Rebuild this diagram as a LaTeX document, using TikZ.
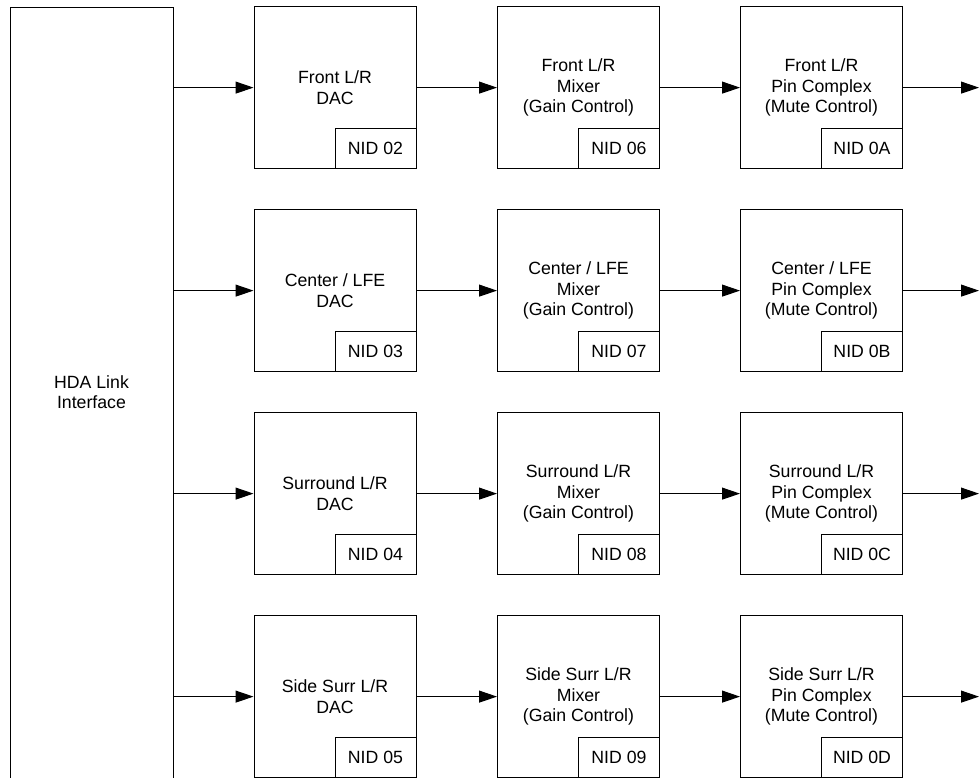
\documentclass[tikz,border=0pt]{standalone}
\usepackage{fontspec}
\setmainfont{Liberation Sans}
\usetikzlibrary{arrows.meta}
\begin{document}
\begin{tikzpicture}[x=1pt,y=-1pt,
  every node/.style={font=\fontsize{17.7}{20.6}\selectfont},
  blk/.style={draw, line width=1pt, minimum width=162pt, minimum height=162pt, inner sep=0pt, align=center},
  nid/.style={draw, line width=1pt, minimum width=81pt, minimum height=40pt, inner sep=0pt, anchor=south east},
  conn/.style={line width=1pt, -{Triangle[length=18pt,width=12pt]}}]
\useasboundingbox (0,-0.6) rectangle (979,776.4);
% HDA link interface
\node[draw, line width=1pt, minimum width=163pt, minimum height=790pt, inner sep=0pt, anchor=north west] (hda) at (10,6) {};
\node[align=center] (hdatext) at (91.5,391.5) {HDA Link\\Interface};
% rows
\foreach \r/\y/\name/\na/\nb/\nc in {1/87/{Front L/R}/02/06/0A, 2/290/{Center / LFE}/03/07/0B, 3/493/{Surround L/R}/04/08/0C, 4/696/{Side Surr L/R}/05/09/0D}{
  \node[blk] (d\r) at (335,\y) {\name\\DAC};
  \node[nid] (nd\r) at (d\r.south east) {NID \na};
  \node[blk] (m\r) at (578.5,\y) {\name\\Mixer\\(Gain Control)};
  \node[nid] (nm\r) at (m\r.south east) {NID \nb};
  \node[blk] (p\r) at (821.5,\y) {\name\\Pin Complex\\(Mute Control)};
  \node[nid] (np\r) at (p\r.south east) {NID \nc};
  \coordinate (o\r) at (979,\y);
  \draw[conn] (d\r.west -| hda.east) -- (d\r.west);
  \draw[conn] (d\r.east) -- (m\r.west);
  \draw[conn] (m\r.east) -- (p\r.west);
  \draw[conn] (p\r.east) -- (o\r);
}
\end{tikzpicture}
\end{document}
